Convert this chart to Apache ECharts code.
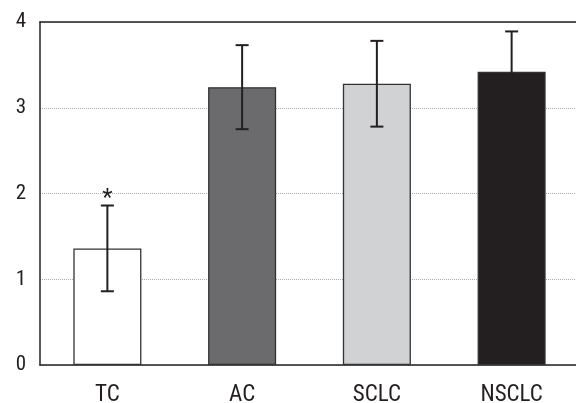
<!DOCTYPE html>
<html><head><meta charset="utf-8">
<script src="https://cdn.jsdelivr.net/npm/echarts@6/dist/echarts.min.js"></script>
<style>html,body{margin:0;padding:0;background:#fff}#c{width:576px;height:403px}</style>
</head><body><div id="c"></div>
<script>
var categories = ['TC', 'AC', 'SCLC', 'NSCLC'];
var means = [1.36, 3.24, 3.28, 3.42];
var errors = [0.5, 0.49, 0.5, 0.47];
var markers = ['*', '', '', ''];
var colors = ['#ffffff', '#6b6b6d', '#d1d2d4', '#231f20'];
var yTicks = [0, 1, 2, 3, 4];

var FONT = '"Roboto Condensed", "Liberation Sans", sans-serif';
var chart = echarts.init(document.getElementById('c'), null, {renderer: 'canvas'});
var errData = categories.map(function (c, i) { return [i, means[i], errors[i]]; });
chart.setOption({
  animation: false,
  grid: {left: 40, right: -3, top: 22, bottom: 38, show: false, containLabel: false, outerBoundsMode: 'none'},
  xAxis: [{
    type: 'category', data: categories,
    axisLine: {show: true, lineStyle: {color: '#222', width: 1.5}},
    axisTick: {show: false},
    axisLabel: {color: '#231f20', fontSize: 23, fontFamily: FONT, margin: 19},
    splitLine: {show: false}
  }, {
    type: 'category', data: categories, position: 'top',
    axisLine: {show: true, lineStyle: {color: '#222', width: 1.5}},
    axisTick: {show: false}, axisLabel: {show: false}
  }],
  yAxis: {
    type: 'value', min: yTicks[0], max: yTicks[yTicks.length - 1], interval: 1,
    axisLine: {show: true, lineStyle: {color: '#222', width: 1.5}},
    axisTick: {show: false},
    axisLabel: {color: '#231f20', fontSize: 21, fontFamily: FONT, margin: 14},
    splitLine: {show: true, lineStyle: {color: '#aaa', type: [1, 1], width: 1}}
  },
  series: [{
    type: 'bar', barWidth: '50.5%',
    data: means.map(function (v, i) {
      return {value: v, itemStyle: {color: colors[i], borderColor: '#333', borderWidth: 1.3}};
    })
  }, {
    type: 'custom', data: errData, z: 10,
    renderItem: function (params, api) {
      var x = api.value(0), m = api.value(1), e = api.value(2);
      var top = api.coord([x, m + e]);
      var bot = api.coord([x, m - e]);
      var hw = 6.5;
      var style = {stroke: '#231f20', lineWidth: 2};
      var children = [
        {type: 'line', shape: {x1: top[0], y1: top[1], x2: bot[0], y2: bot[1]}, style: style},
        {type: 'line', shape: {x1: top[0] - hw, y1: top[1], x2: top[0] + hw, y2: top[1]}, style: style},
        {type: 'line', shape: {x1: bot[0] - hw, y1: bot[1], x2: bot[0] + hw, y2: bot[1]}, style: style}
      ];
      var mk = markers[params.dataIndex];
      if (mk) {
        children.push({type: 'text', style: {text: mk, x: top[0], y: top[1] + 5, align: 'center', verticalAlign: 'bottom', fontSize: 24, fontFamily: FONT, fill: '#231f20'}});
      }
      return {type: 'group', children: children};
    }
  }]
});
</script></body></html>
